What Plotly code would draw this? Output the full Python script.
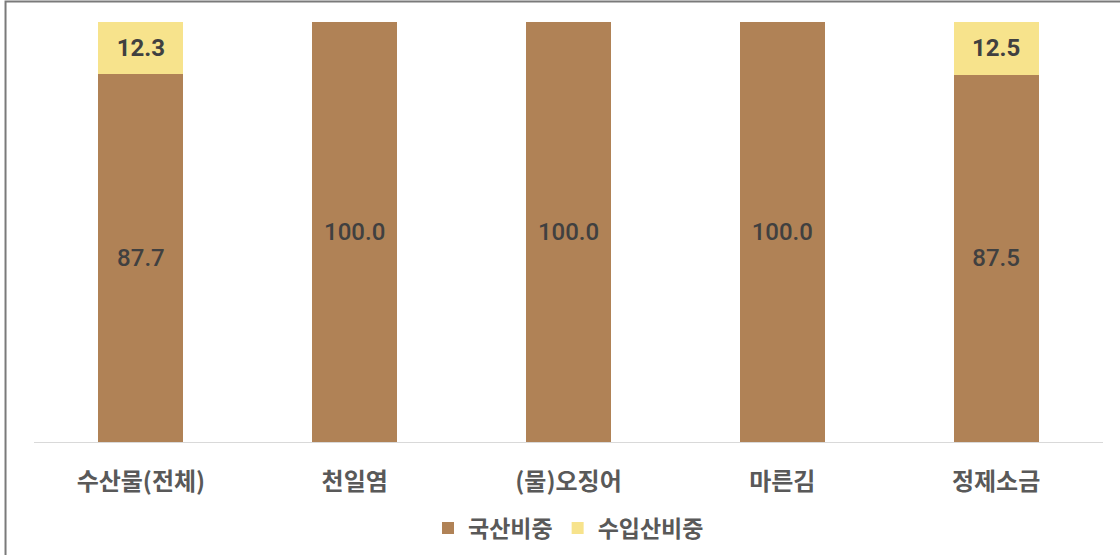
import plotly.graph_objects as go

categories = ["수산물(전체)", "천일염", "(물)오징어", "마른김", "정제소금"]
domestic_share = [87.7, 100.0, 100.0, 100.0, 87.5]
import_share = [12.3, 0.0, 0.0, 0.0, 12.5]
series_names = ["국산비중", "수입산비중"]

BROWN = "#B08256"
YELLOW = "#F7E38C"

W, H = 1120, 555
ml, mr, mt, mb = 33.5, 16.5, 22, 113
pw, ph = W - ml - mr, H - mt - mb

fig = go.Figure()
fig.add_trace(go.Bar(
    x=categories, y=domestic_share, name=series_names[0],
    marker=dict(color=BROWN, line=dict(width=0)),
    text=[f"{v:.1f}" for v in domestic_share],
    textposition="inside", insidetextanchor="middle",
    textfont=dict(family="Roboto", size=25, color="#404040", weight=500),
    hoverinfo="skip",
))
fig.add_trace(go.Bar(
    x=categories, y=import_share, name=series_names[1],
    marker=dict(color=YELLOW, line=dict(width=0)),
    text=[f"{v:.1f}" if v > 0 else "" for v in import_share],
    textposition="inside", insidetextanchor="middle",
    textfont=dict(family="Roboto", size=24, color="#404040", weight="bold"),
    hoverinfo="skip",
))

# outer frame of the chart area
fig.add_shape(
    type="rect", xref="paper", yref="paper",
    x0=(5 - ml) / pw, x1=(W + 10 - ml) / pw,
    y0=-(H + 10 - mt - ph) / ph, y1=(mt + ph - 1.5) / ph,
    line=dict(color="#7a7a7a", width=2), fillcolor="rgba(0,0,0,0)",
    layer="above",
)

fig.update_layout(
    width=W, height=H,
    margin=dict(l=ml, r=mr, t=mt, b=mb, autoexpand=False),
    barmode="stack", bargap=1 - 85 / 214,
    plot_bgcolor="white", paper_bgcolor="white",
    uniformtext=dict(mode="show", minsize=10),
    xaxis=dict(
        showline=True, linecolor="#d9d9d9", linewidth=1, automargin=False,
        ticks="", showgrid=False, ticklabelstandoff=18,
        tickfont=dict(family="Noto Sans CJK KR", size=24, color="#595959", weight="bold"),
    ),
    yaxis=dict(range=[0, 100], visible=False, showgrid=False),
    legend=dict(
        orientation="h", x=0.5, xanchor="center", y=-0.205, yanchor="middle",
        font=dict(family="Noto Sans CJK KR", size=23, color="#595959", weight="bold"),
        itemwidth=30, traceorder="normal",
    ),
    showlegend=True,
)

fig.write_html("out.html")
